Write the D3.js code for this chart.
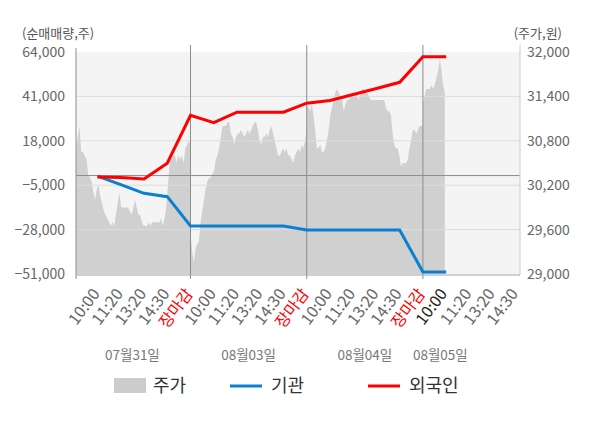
<!DOCTYPE html>
<html>
<head>
<meta charset="utf-8">
<script src="https://cdn.jsdelivr.net/npm/d3@7"></script>
<style>
body { margin: 0; background: #fff; }
svg { display: block; font-family: "Noto Sans CJK KR", "Noto Sans", sans-serif; }
</style>
</head>
<body>
<div id="chart"></div>
<script>
// categories / labels
const dayLabels = ["07월31일", "08월03일", "08월04일", "08월05일"];
const timeLabels = ["10:00", "11:20", "13:20", "14:30", "장마감"];
const leftTicks = [-51000, -28000, -5000, 18000, 41000, 64000];
const rightTicks = [29000, 29600, 30200, 30800, 31400, 32000];

// cumulative net buying (shares), one value per time slot from 10:00 of day 1
const instNet = [-300, -4750, -9200, -10950, -26100, -26100, -26100, -26100, -26100,
                 -28200, -28200, -28200, -28200, -28200, -50000, -50000];
const foreignNet = [-800, -1000, -1800, 6400, 31200, 27400, 32800, 32800, 32800,
                    37500, 38900, 42000, 45100, 48300, 61500, 61500];

// intraday price (won)
const priceDay1 = [30800, 30700, 30850, 31000, 30650, 30650, 30600, 30550, 30350, 30300,
  30250, 30100, 30000, 30150, 30200, 30050, 29950, 29850, 29800, 29750,
  29700, 29650, 29700, 29650, 29800, 29950, 30100, 29900, 29900, 29900,
  29900, 29900, 29850, 29800, 29900, 30000, 29900, 29800, 29800, 29700,
  29650, 29650, 29650, 29700, 29650, 29700, 29700, 29700, 29700, 29700,
  29750, 29650, 29750, 29900, 30200, 30500, 30550, 30600, 30600, 30500,
  30600, 30550, 30600, 30500, 30700, 30750, 30800, 30750];
const priceDay2 = [29550, 29300, 29150, 29350, 29400, 29450, 29700, 29850, 30000, 30150,
  30250, 30300, 30300, 30350, 30400, 30550, 30600, 30700, 30850, 31000,
  31000, 31000, 31050, 31050, 30900, 30850, 30750, 30850, 30900, 30900,
  30950, 30900, 30850, 30900, 30950, 30900, 30950, 31000, 31050, 31050,
  30950, 30800, 30750, 30850, 30850, 30900, 30850, 30950, 31000, 30900,
  30800, 30700, 30600, 30600, 30650, 30700, 30650, 30700, 30600, 30600,
  30550, 30500, 30600, 30650, 30700, 30650, 30750, 30700, 30800, 30950];
const priceDay3 = [31300, 31250, 31200, 31300, 31150, 30950, 30700, 30700, 30750, 30650,
  30650, 30700, 30800, 30950, 31150, 31250, 31350, 31450, 31500, 31450,
  31400, 31350, 31200, 31300, 31350, 31350, 31400, 31450, 31400, 31450,
  31400, 31350, 31450, 31500, 31500, 31450, 31450, 31400, 31350, 31350,
  31350, 31350, 31350, 31350, 31350, 31350, 31350, 31250, 31200, 31200,
  31150, 30900, 30750, 30700, 30700, 30600, 30450, 30500, 30500, 30500,
  30550, 30700, 30800, 30950, 30950, 30900, 30950, 31000, 31000, 31000];
const priceDay4 = [31300, 31400, 31500, 31500, 31500, 31550, 31500, 31550, 31650, 31750,
  31900, 31750, 31550, 31450];

const SAMPLES_PER_DAY = 70;
const width = 600, height = 428;
const plot = { left: 76, right: 520, top: 52, bottom: 274 };

let svg = d3.select("#chart").append("svg")
  .attr("width", width)
  .attr("height", height);

// x is in "slot" units: 5 slots per trading day
let x = d3.scaleLinear().domain([0, 19]).range([74.3, 515.9]);
let yL = d3.scaleLinear().domain([-51000, 64000]).range([plot.bottom, plot.top]);
let yR = d3.scaleLinear().domain([29000, 32000]).range([plot.bottom, plot.top]);

svg.append("defs").append("clipPath").attr("id", "clip")
  .append("rect")
  .attr("x", plot.left).attr("y", plot.top)
  .attr("width", plot.right - plot.left).attr("height", plot.bottom - plot.top);

svg.append("rect")
  .attr("x", plot.left).attr("y", plot.top)
  .attr("width", plot.right - plot.left).attr("height", plot.bottom - plot.top)
  .attr("fill", "#f4f4f4");

// price area
let pricePts = [];
[priceDay1, priceDay2, priceDay3, priceDay4].forEach((arr, d) => {
  let n = d < 3 ? arr.length : SAMPLES_PER_DAY;
  arr.forEach((v, i) => pricePts.push({ pos: d * 5 + i * 5 / (n - 1), v: v }));
});
let lastPos = pricePts[pricePts.length - 1].pos;

svg.append("path")
  .datum(pricePts)
  .attr("clip-path", "url(#clip)")
  .attr("fill", "#d0d0d0")
  .attr("d", d3.area().x(d => x(d.pos)).y0(yR(29000)).y1(d => yR(d.v)));

// grid
svg.selectAll("line.grid")
  .data(leftTicks.slice(1, -1))
  .enter().append("line")
  .attr("class", "grid")
  .attr("x1", plot.left).attr("x2", plot.right)
  .attr("y1", d => yL(d)).attr("y2", d => yL(d))
  .attr("stroke", "#dcdcdc").attr("stroke-width", 1);

svg.append("line")
  .attr("x1", plot.left).attr("x2", plot.right)
  .attr("y1", yL(0)).attr("y2", yL(0))
  .attr("stroke", "#8c8c8c");

// day dividers
svg.selectAll("line.day")
  .data([5, 10, 15])
  .enter().append("line")
  .attr("class", "day")
  .attr("x1", d => x(d)).attr("x2", d => x(d))
  .attr("y1", 45).attr("y2", plot.bottom + 5)
  .attr("stroke", "#8c8c8c");

// axes frame
svg.append("line")
  .attr("x1", plot.left).attr("x2", plot.left)
  .attr("y1", 48).attr("y2", plot.bottom + 5)
  .attr("stroke", "#8c8c8c");
svg.append("line")
  .attr("x1", plot.right).attr("x2", plot.right)
  .attr("y1", 45).attr("y2", plot.bottom + 1)
  .attr("stroke", "#cccccc");
svg.append("line")
  .attr("x1", plot.left).attr("x2", plot.right)
  .attr("y1", plot.bottom + 1).attr("y2", plot.bottom + 1)
  .attr("stroke", "#a0a0a0");

// net buying lines
let netLine = d3.line().x(d => x(d.pos)).y(d => yL(d.v));
[[instNet, "#0a80d0"], [foreignNet, "#ff0000"]].forEach(([arr, color]) => {
  svg.append("path")
    .datum(arr.map((v, i) => ({ pos: i + 1, v: v })))
    .attr("fill", "none")
    .attr("stroke", color)
    .attr("stroke-width", 3)
    .attr("d", netLine);
});

// y tick labels
svg.selectAll("text.yl")
  .data(leftTicks)
  .enter().append("text")
  .attr("x", 65).attr("y", d => yL(d))
  .attr("dy", "0.35em")
  .attr("text-anchor", "end")
  .attr("font-size", 14).attr("fill", "#666")
  .text(d => d3.format(",")(d));

svg.selectAll("text.yr")
  .data(rightTicks)
  .enter().append("text")
  .attr("x", 527).attr("y", d => yR(d))
  .attr("dy", "0.35em")
  .attr("font-size", 14).attr("fill", "#666")
  .text(d => d3.format(",")(d));

svg.append("text").attr("x", 22).attr("y", 38)
  .attr("font-size", 13).attr("fill", "#555").text("(순매매량,주)");
svg.append("text").attr("x", 562).attr("y", 38).attr("text-anchor", "end")
  .attr("font-size", 13).attr("fill", "#555").text("(주가,원)");

// x tick labels
let xTicks = [];
dayLabels.forEach((day, d) => {
  let count = d < 3 ? 5 : 4;
  for (let k = 0; k < count; k++) {
    let current = d === 3 && k === 0;
    xTicks.push({
      pos: current ? lastPos : d * 5 + k + 1,
      label: timeLabels[k],
      color: current ? "#222" : (k === 4 ? "#ff0000" : "#666")
    });
  }
});

svg.selectAll("text.xt")
  .data(xTicks)
  .enter().append("text")
  .attr("transform", d => `translate(${x(d.pos) + 3},294) rotate(-53)`)
  .attr("text-anchor", "end")
  .attr("font-size", 16)
  .attr("fill", d => d.color)
  .text(d => d.label);

svg.selectAll("text.day")
  .data(dayLabels)
  .enter().append("text")
  .attr("x", (d, i) => i < 3 ? x(i * 5 + 2.5) : x(15.75))
  .attr("y", 355).attr("dy", "0.35em")
  .attr("text-anchor", "middle")
  .attr("font-size", 13.5).attr("fill", "#777")
  .text(d => d);

// legend
let legend = svg.append("g").attr("font-size", 18).attr("fill", "#333");
legend.append("rect").attr("x", 114).attr("y", 378).attr("width", 32).attr("height", 15).attr("fill", "#cccccc");
legend.append("text").attr("x", 153).attr("y", 386).attr("dy", "0.35em").text("주가");
legend.append("line").attr("x1", 230).attr("x2", 262).attr("y1", 386).attr("y2", 386)
  .attr("stroke", "#0a80d0").attr("stroke-width", 3);
legend.append("text").attr("x", 271).attr("y", 386).attr("dy", "0.35em").text("기관");
legend.append("line").attr("x1", 368).attr("x2", 400).attr("y1", 386).attr("y2", 386)
  .attr("stroke", "#ff0000").attr("stroke-width", 3);
legend.append("text").attr("x", 409).attr("y", 386).attr("dy", "0.35em").text("외국인");
</script>
</body>
</html>
